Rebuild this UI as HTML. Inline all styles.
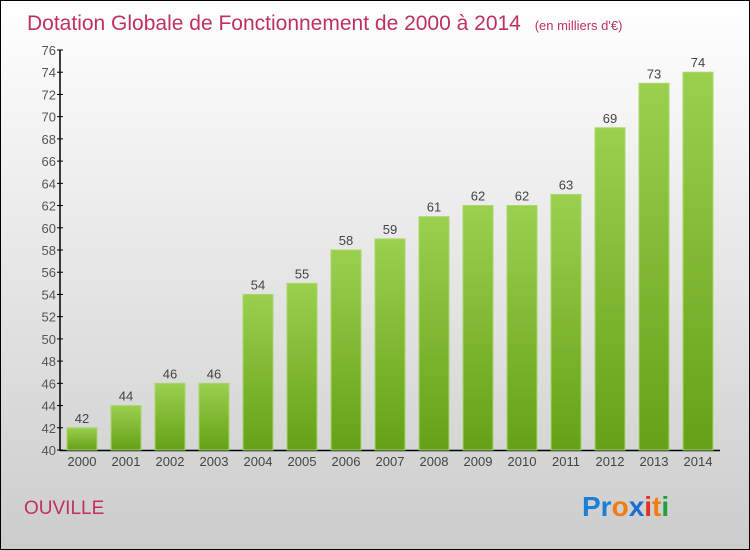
<!DOCTYPE html>
<html><head><meta charset="utf-8"><style>
body{margin:0}
svg{display:block;font-family:"Liberation Sans",sans-serif}
</style></head><body>
<svg id="c" width="750" height="550">
<defs>
<linearGradient id="bg" x1="0" y1="0" x2="0" y2="1"><stop offset="0" stop-color="#ffffff"/><stop offset="1" stop-color="#cccccc"/></linearGradient>
<linearGradient id="bar" x1="0" y1="0" x2="0" y2="1"><stop offset="0" stop-color="#9ad04e"/><stop offset="1" stop-color="#66a018"/></linearGradient>
</defs>
<rect x="0.5" y="0.5" width="749" height="549" fill="url(#bg)" stroke="#000"/>
<text x="27" y="30" font-size="21" fill="#c0305e">Dotation Globale de Fonctionnement de 2000 à 2014 <tspan font-size="13" dx="8">(en milliers d'€)</tspan></text>
<text x="24" y="514" font-size="19" fill="#c0305e">OUVILLE</text>
<g font-size="28" font-weight="bold">
<text x="582" y="516" fill="#1a7fd6">Pr<tspan fill="#f07d10">o</tspan><tspan fill="#1a6fd0">x</tspan><tspan fill="#e03020">i</tspan><tspan fill="#f07d10">t</tspan><tspan fill="#20a040">i</tspan></text>
</g>
<g id="axes"></g><g id="bars"></g>
</svg>
<script>
const years=["2000","2001","2002","2003","2004","2005","2006","2007","2008","2009","2010","2011","2012","2013","2014"];
const values=[42,44,46,46,54,55,58,59,61,62,62,63,69,73,74];
const yTicks=[40,42,44,46,48,50,52,54,56,58,60,62,64,66,68,70,72,74,76];
const ns="http://www.w3.org/2000/svg";
const y=v=>450-(v-40)*400/36;
const x=i=>82+i*44;
function mk(t,a,p,txt){const e=document.createElementNS(ns,t);for(const k in a)e.setAttribute(k,a[k]);if(txt!==undefined)e.textContent=txt;p.appendChild(e);return e;}
const ax=document.getElementById('axes'),bs=document.getElementById('bars');
const yl=mk('line',{x1:60,y1:50,x2:60,y2:451,stroke:'#000','stroke-width':1.5},ax);


const xl=mk('line',{x1:60,y1:450.5,x2:720,y2:450.5,stroke:'#000','stroke-width':1.5},ax);


yTicks.forEach(v=>{
 mk('line',{x1:57,y1:y(v),x2:63,y2:y(v),stroke:'#000'},ax);
 const t=mk('text',{x:56,y:y(v)+5,'font-size':13,fill:'#555','text-anchor':'end'},ax,v);
 
 
});
years.forEach((yr,i)=>{
 const v=values[i];
 const r=mk('rect',{x:x(i)-15,y:y(v),width:30,height:450-y(v),fill:'url(#bar)',stroke:'#a8d868','stroke-width':1},bs);
 
 
 const l=mk('text',{x:x(i),y:y(v)-5,'font-size':13,fill:'#444','text-anchor':'middle'},bs,v);
 
 
 const t=mk('text',{x:x(i),y:466,'font-size':13,fill:'#444','text-anchor':'middle'},ax,yr);
 
 
});
</script>
</body></html>
